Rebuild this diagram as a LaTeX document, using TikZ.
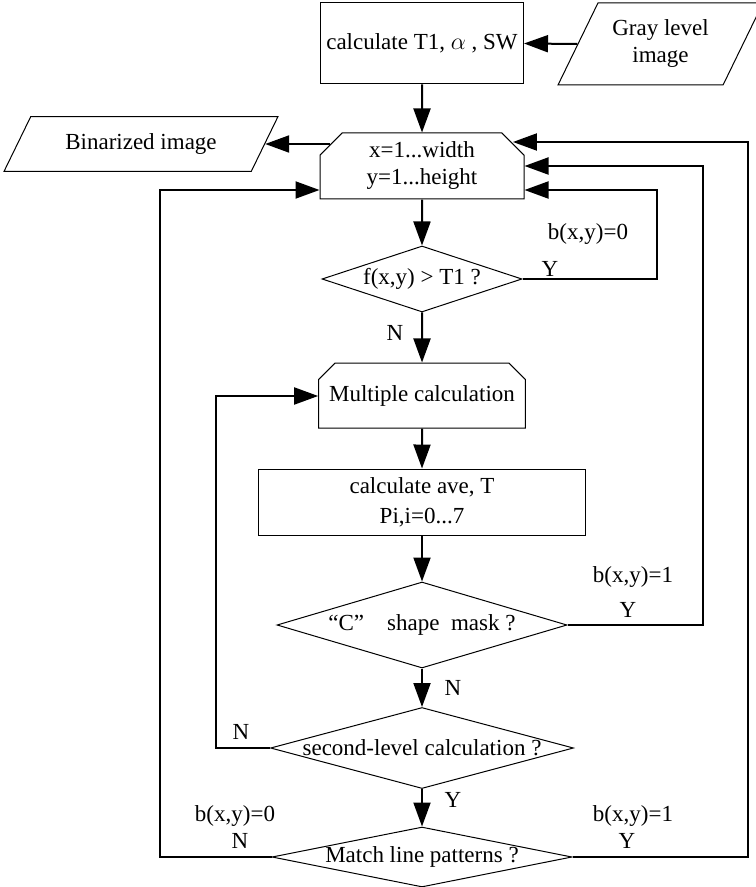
\documentclass[tikz,border=0pt]{standalone}
\usepackage{fontspec}
\setmainfont{Liberation Serif}
\usetikzlibrary{shapes.geometric, shapes.misc, arrows.meta}

\newcommand{\zerow}[1]{\makebox[0pt]{#1}}

\begin{document}
\begin{tikzpicture}[x=0.5pt, y=-0.5pt,
    every node/.style={font=\fontsize{11.5}{13.5}\selectfont},
    proc/.style={draw, line width=0.5pt, rectangle, inner sep=0pt, align=center},
    loopbox/.style={draw, line width=0.5pt, chamfered rectangle,
        chamfered rectangle corners={north west, north east},
        chamfered rectangle xsep=8pt, inner sep=0pt, align=center},
    io/.style={draw, line width=0.5pt, trapezium, trapezium left angle=64,
        trapezium right angle=116, trapezium stretches body,
        inner xsep=0pt, inner ysep=8.5pt, align=center},
    decide/.style={draw, line width=0.5pt, diamond, inner sep=0pt},
    flow/.style={line width=1pt, -{Triangle[length=12pt, width=8.5pt]}}]

    \useasboundingbox (0,0) rectangle (755,887);

    \node[proc, minimum width=101.5pt, minimum height=40.5pt] (top) at (422,43.5) {calculate T1, $\alpha$ , SW};
    \node[io, minimum width=102.5pt, minimum height=41pt] (gray) at (660.5,44) {Gray level\\image};
    \node[io, minimum width=137pt, minimum height=27pt] (bin) at (141,144) {Binarized image};
    \node[loopbox, minimum width=102pt, minimum height=33pt] (loop) at (422,166) {x=1...width\\y=1...height};
    \node[decide, minimum width=100pt, minimum height=33pt] (f) at (422,279) {\zerow{f(x,y) > T1 ?}};
    \node[loopbox, minimum width=101pt, minimum height=32.5pt] (mult) at (422,395.5) {Multiple calculation};
    \node[proc, minimum width=163.5pt, minimum height=33pt] (calc) at (422,502) {calculate ave, T\\[1.5pt]Pi,i=0...7};
    \node[decide, minimum width=145pt, minimum height=43pt] (c) at (422,625) {\zerow{“C”\quad shape\enspace mask ?}};
    \node[decide, minimum width=151.5pt, minimum height=40.5pt] (s) at (422,748) {\zerow{second-level calculation ?}};
    \node[decide, minimum width=150pt, minimum height=30pt] (m) at (422,857) {\zerow{Match line patterns ?}};

    \coordinate (r1) at (657,190);
    \coordinate (r2) at (703,166);
    \coordinate (r3) at (748,142);
    \coordinate (l1) at (160,190);
    \coordinate (l2) at (216,396);

    \draw[flow] (gray.west) -- (top.east);
    \draw[flow] (top) -- (loop);
    \draw[flow] (loop.167 |- bin.east) -- (bin.east);
    \draw[flow] (loop) -- (f);
    \draw[flow] (f) -- (mult);
    \draw[flow] (mult) -- (calc);
    \draw[flow] (calc) -- (c);
    \draw[flow] (c) -- (s);
    \draw[flow] (s) -- (m);

    \draw[flow] (f.east) -| (r1) -- (r1 -| loop.east);
    \draw[flow] (c.east) -| (r2) -- (r2 -| loop.east);
    \draw[flow] (m.east) -| (r3) -- (loop.14 |- r3);
    \draw[flow] (m.west) -| (l1) -- (l1 -| loop.west);
    \draw[flow] (s.west) -| (l2) -- (l2 -| mult.west);

    \node (bzero) at (588,234) {b(x,y)=0};
    \node (yes1) at (550,269) {Y};
    \node (no1) at (395,333) {N};
    \node (bone) at (633,577) {b(x,y)=1};
    \node (yes2) at (628,610) {Y};
    \node (no2) at (453,688) {N};
    \node (no3) at (241,732) {N};
    \node (yes3) at (453,800) {Y};
    \node (bzerob) at (235,816) {b(x,y)=0};
    \node (no4) at (240,841) {N};
    \node (boneb) at (633,816) {b(x,y)=1};
    \node (yes4) at (627,841) {Y};
\end{tikzpicture}
\end{document}
